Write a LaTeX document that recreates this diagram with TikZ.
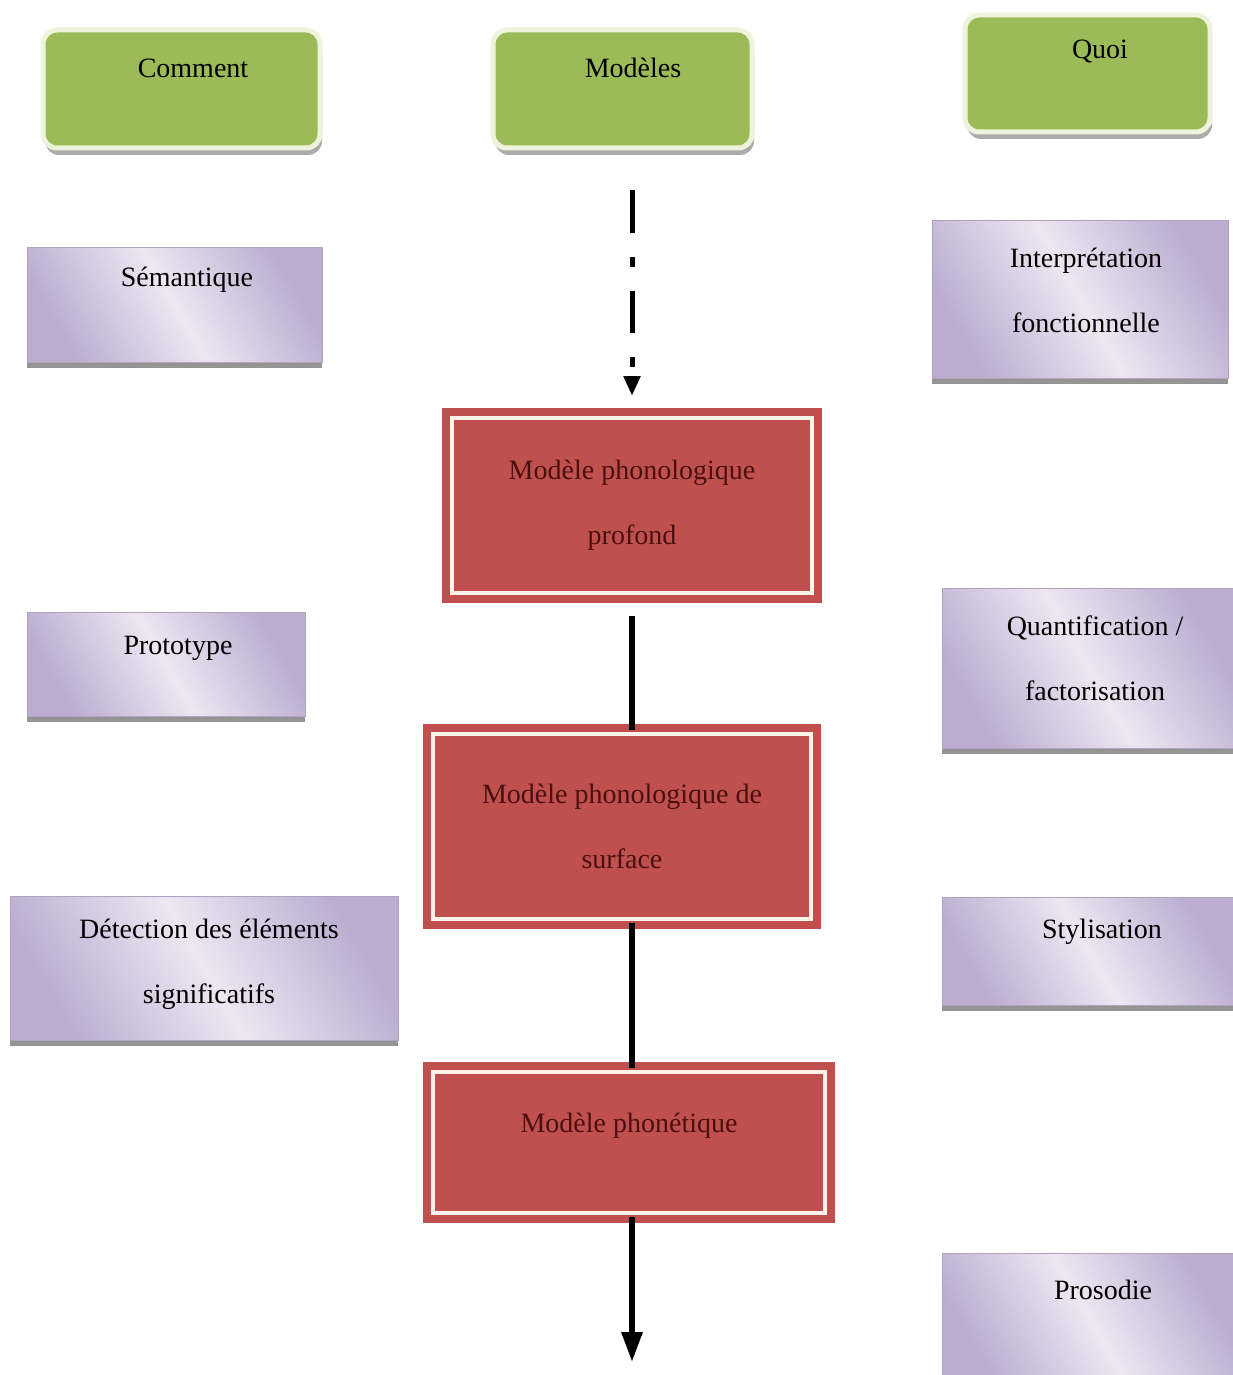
\documentclass[tikz,border=0pt]{standalone}
\usepackage{fontspec}
\setmainfont{Liberation Serif}
\usetikzlibrary{arrows.meta,shadows}
\definecolor{vert}{HTML}{9BBB59}
\definecolor{vertclair}{HTML}{EEF4DC}
\definecolor{rouge}{HTML}{C0504D}
\definecolor{rougetexte}{HTML}{4A1010}
\definecolor{creme}{HTML}{FFF4EA}
\definecolor{lavclair}{HTML}{ECE7F2}
\definecolor{lavfonce}{HTML}{BBACD0}

\begin{document}
\begin{tikzpicture}[x=1pt,y=-1pt]
 \tikzset{titre/.style={draw=vertclair, line width=5pt, fill=vert, rounded corners=14pt,
   drop shadow={shadow xshift=2pt, shadow yshift=-7pt, fill=black!55, opacity=0.6}}}
 \tikzset{etape/.style={draw=lavfonce!80!gray, line width=1pt, left color=lavfonce, right color=lavfonce,
   middle color=lavclair, shading angle=120,
   drop shadow={shadow xshift=0pt, shadow yshift=-6pt, fill=black!60, opacity=0.7}}}
 \tikzset{modele/.style={draw=rouge, double=creme, double distance=4pt, line width=8pt, fill=rouge,
   text=rougetexte, font=\fontsize{28}{65}\selectfont, align=center}}
 \tikzset{txt/.style={font=\fontsize{28}{65}\selectfont, align=center, inner sep=0pt}}
 \tikzset{lien/.style={line width=6pt}}
  \useasboundingbox (0,0) rectangle (1232,1375);
  % en-tetes
  \node[titre, minimum width=277, minimum height=118] (comment) at (181.5,89) {};
  \node[titre, minimum width=259, minimum height=118] (modeles) at (622.5,89) {};
  \node[titre, minimum width=245, minimum height=117] (quoi) at (1087.5,73.5) {};
  \node[txt] (commentt) at (193,68) {Comment};
  \node[txt] (modelest) at (633,68) {Modèles};
  \node[txt] (quoit) at (1100,52) {Quoi};
  % colonne gauche
  \node[etape, minimum width=295, minimum height=115] (sem) at (174.5,304.5) {};
  \node[etape, minimum width=278, minimum height=104] (proto) at (166,664) {};
  \node[etape, minimum width=388, minimum height=144] (detect) at (204,968) {};
  \node[txt] (semt) at (187,280) {Sémantique};
  \node[txt] (protot) at (178,648) {Prototype};
  \node[txt] (detectt) at (209,964) {Détection des éléments\\significatifs};
  % colonne droite
  \node[etape, minimum width=296, minimum height=158] (interp) at (1080,299) {};
  \node[etape, minimum width=293, minimum height=160] (quant) at (1088.5,668) {};
  \node[etape, minimum width=293, minimum height=108] (styl) at (1088.5,951) {};
  \node[etape, minimum width=293, minimum height=127] (pros) at (1088.5,1316.5) {};
  \node[txt] (interpt) at (1086,290) {Interprétation\\fonctionnelle};
  \node[txt] (quantt) at (1095,658) {Quantification /\\factorisation};
  \node[txt] (stylt) at (1102,932) {Stylisation};
  \node[txt] (prost) at (1103,1290) {Prosodie};
  % modeles
  \node[modele, minimum width=360, minimum height=175] (pp) at (632,505.5) {Modèle phonologique\\profond};
  \node[modele, minimum width=378, minimum height=185] (ps) at (622,826.5) {Modèle phonologique de\\surface};
  \node[modele, minimum width=392, minimum height=141, text depth=40pt] (pn) at (629,1142.5) {Modèle phonétique};
  \coordinate (sortie) at (632,1362);
  \draw[line width=5pt, dash pattern=on 42pt off 24pt on 10pt off 24pt, shorten <=40pt, shorten >=18pt,
    -{Triangle[width=16pt,length=20pt]}] (pp.north |- modeles.south) -- (pp.north);
  \draw[lien, shorten <=19pt] (pp.south) -- (pp.south |- ps.north);
  \draw[lien] (ps.south -| pp.south) -- (pn.north -| pp.south);
  \draw[lien, -{Triangle[width=20pt,length=30pt]}] (pn.south -| sortie) -- (sortie);
\end{tikzpicture}
\end{document}
